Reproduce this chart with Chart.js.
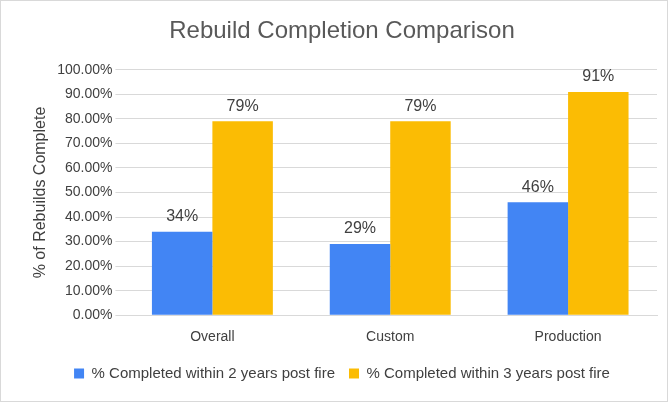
<!DOCTYPE html>
<html>
<head>
<meta charset="utf-8">
<script src="https://cdn.jsdelivr.net/npm/chart.js@4"></script>
<style>
  body { margin: 0; background: #fff; }
  #wrap { position: absolute; left: 0; top: 0; width: 666px; height: 400px; border: 1px solid #d9d9d9; }
</style>
</head>
<body>
<div id="wrap"><canvas id="chart" width="666" height="400"></canvas></div>
<script>
const categories = ['Overall', 'Custom', 'Production'];
const within2Years = [34, 29, 46];
const within3Years = [79, 79, 91];
const seriesNames = ['% Completed within 2 years post fire', '% Completed within 3 years post fire'];

// labels over each bar, placed from the bar elements
const barLabels = {
  id: 'barLabels',
  afterDatasetsDraw(chart) {
    const ctx = chart.ctx;
    ctx.save();
    ctx.font = '16px "Liberation Sans", Arial, sans-serif';
    ctx.fillStyle = '#404040';
    ctx.textAlign = 'center';
    ctx.textBaseline = 'bottom';
    chart.data.datasets.forEach((ds, i) => {
      chart.getDatasetMeta(i).data.forEach((bar, j) => {
        ctx.fillText(ds.data[j] + '%', bar.x, bar.y - 7);
      });
    });
    ctx.restore();
  }
};

new Chart(document.getElementById('chart'), {
  type: 'bar',
  data: {
    labels: categories,
    datasets: [
      { label: seriesNames[0], data: within2Years, backgroundColor: '#4285f4' },
      { label: seriesNames[1], data: within3Years, backgroundColor: '#fbbc04' }
    ]
  },
  options: {
    responsive: false,
    animation: false,
    layout: { padding: { left: 26, right: 10, top: 10, bottom: 10 } },
    datasets: { bar: { categoryPercentage: 0.68, barPercentage: 1 } },
    plugins: {
      title: {
        display: true,
        text: 'Rebuild Completion Comparison',
        color: '#595959',
        font: { family: '"Liberation Sans", Arial, sans-serif', size: 24, weight: 'normal' },
        padding: { top: 6, bottom: 24 }
      },
      legend: {
        position: 'bottom',
        labels: {
          color: '#404040',
          boxWidth: 10, boxHeight: 10,
          font: { family: '"Liberation Sans", Arial, sans-serif', size: 15 },
          padding: 14
        }
      },
      tooltip: { enabled: false }
    },
    scales: {
      x: {
        grid: { display: false },
        border: { color: '#d9d9d9' },
        ticks: { color: '#404040', padding: 6, font: { family: '"Liberation Sans", Arial, sans-serif', size: 14 } }
      },
      y: {
        min: 0, max: 100,
        ticks: {
          stepSize: 10,
          color: '#404040',
          font: { family: '"Liberation Sans", Arial, sans-serif', size: 14 },
          callback: v => v.toFixed(2) + '%'
        },
        grid: { color: '#d9d9d9' },
        border: { display: false },
        title: {
          display: true,
          text: '% of Rebuilds Complete',
          color: '#404040',
          font: { family: '"Liberation Sans", Arial, sans-serif', size: 16 }
        }
      }
    }
  },
  plugins: [barLabels]
});
</script>
</body>
</html>
